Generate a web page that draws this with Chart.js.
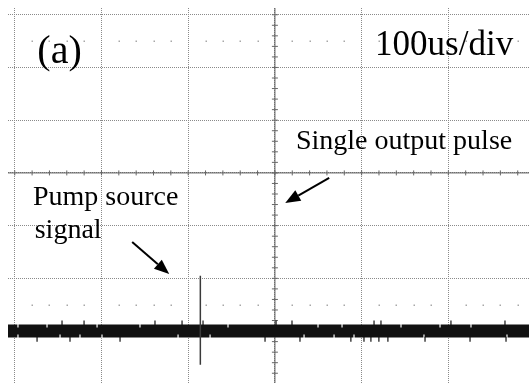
<!DOCTYPE html>
<html>
<head>
<meta charset="utf-8">
<script src="https://cdn.jsdelivr.net/npm/chart.js@4.4.1/dist/chart.umd.min.js"></script>
<style>
html,body{margin:0;padding:0;background:#fff;overflow:hidden;}
#c{display:block;}
</style>
</head>
<body>
<canvas id="c" width="529" height="383"></canvas>
<script>
// Axis window in divisions (centre of the screen = 0,0)
const xRange = [-3.078, 2.93];
const yRange = [-3.985, 3.128];
const xGridTicks = [-3, -2, -1, 0, 1, 2];
const yGridTicks = [-3, -2, -1, 0, 1, 2, 3];

// Baseline noise trace (level in divisions, start/end in divisions)
const baselineLevel = -3.0;
const baselineX = [-3.078, 2.93];

// Noise spikes leaving the band (x positions in divisions)
const upSpikes = [-2.455, -2.201, -1.383, -1.071, -0.829, 0.013, 0.197, 1.143, 1.223, 2.03, 2.653];
const downSpikes = [-2.743, -2.363, -1.786, -0.114, 0.289, 0.876, 1.027, 1.107, 1.199, 1.303, 1.731, 2.25, 2.665];
// Gaps in the band edges
const topNotches = [-2.963, -2.628, -2.051, -1.556, -0.541, 0.497, 0.774, 1.454, 1.904, 2.261];
const bottomNotches = [-2.963, -2.478, -2.248, -1.994, -1.117, -0.748, 0.336, 0.682, 0.912, 1.719, 2.676];

// Pump source signal: single vertical stroke
const pumpX = [-0.86, -0.86];
const pumpY = [-1.95, -3.64];

// Annotation texts and positions (divisions)
const labels = [
  {text: '(a)', x: -2.74, y: 2.087, size: 40},
  {text: '100us/div', x: 1.155, y: 2.24, size: 35},
  {text: 'Single output pulse', x: 0.243, y: 0.455, size: 28},
  {text: 'Pump source', x: -2.79, y: -0.607, size: 28},
  {text: 'signal', x: -2.77, y: -1.233, size: 28}
];
const arrows = [
  {from: [0.626, -0.095], to: [0.119, -0.57]},
  {from: [-1.646, -1.31], to: [-1.219, -1.917]}
];

const bandTop = baselineLevel + 0.125;
const bandBot = baselineLevel - 0.125;

const overlay = {
  id: 'overlay',
  beforeDatasetsDraw(chart) {
    const {ctx, chartArea: a, scales: {x, y}} = chart;
    ctx.save();
    // dotted rows at +/-2.5 div
    ctx.fillStyle = '#a8a8a8';
    [2.5, -2.5].forEach(r => {
      const py = y.getPixelForValue(r);
      for (let v = -3; v <= 2.95; v += 0.2) {
        const rv = Math.round(v * 5) / 5;
        if (Math.abs(rv - Math.round(rv)) < 1e-6) continue;
        ctx.fillRect(Math.round(x.getPixelForValue(rv)) - 0.5, Math.round(py) - 0.5, 1.5, 1.5);
      }
    });
    // centre crosshair
    const cx = x.getPixelForValue(0), cy = y.getPixelForValue(0);
    ctx.strokeStyle = '#5a5a5a';
    ctx.lineWidth = 1;
    ctx.beginPath();
    ctx.moveTo(a.left, cy); ctx.lineTo(a.right, cy);
    ctx.moveTo(cx, a.top); ctx.lineTo(cx, a.bottom);
    ctx.stroke();
    ctx.strokeStyle = '#666';
    ctx.beginPath();
    for (let v = -3; v <= 2.95; v += 0.2) {
      const rv = Math.round(v * 5) / 5;
      const px = x.getPixelForValue(rv);
      ctx.moveTo(px, cy - 2.5); ctx.lineTo(px, cy + 2.5);
    }
    for (let v = -3.8; v <= 3.1; v += 0.2) {
      const rv = Math.round(v * 5) / 5;
      const py = y.getPixelForValue(rv);
      ctx.moveTo(cx - 3, py); ctx.lineTo(cx + 3, py);
    }
    ctx.stroke();
    ctx.restore();
  },
  afterDatasetsDraw(chart) {
    const {ctx, scales: {x, y}} = chart;
    ctx.save();
    ctx.fillStyle = '#000';
    ctx.textBaseline = 'alphabetic';
    labels.forEach(l => {
      ctx.font = l.size + 'px "Liberation Serif", "Times New Roman", serif';
      ctx.fillText(l.text, x.getPixelForValue(l.x), y.getPixelForValue(l.y));
    });
    arrows.forEach(ar => {
      const x0 = x.getPixelForValue(ar.from[0]), y0 = y.getPixelForValue(ar.from[1]);
      const x1 = x.getPixelForValue(ar.to[0]), y1 = y.getPixelForValue(ar.to[1]);
      const ang = Math.atan2(y1 - y0, x1 - x0);
      const hl = 15, hw = 6;
      const bx = x1 - hl * Math.cos(ang), by = y1 - hl * Math.sin(ang);
      ctx.strokeStyle = '#000';
      ctx.lineWidth = 2;
      ctx.beginPath(); ctx.moveTo(x0, y0); ctx.lineTo(bx, by); ctx.stroke();
      ctx.beginPath();
      ctx.moveTo(x1, y1);
      ctx.lineTo(bx + hw * Math.sin(ang), by - hw * Math.cos(ang));
      ctx.lineTo(bx - hw * Math.sin(ang), by + hw * Math.cos(ang));
      ctx.closePath(); ctx.fill();
    });
    ctx.restore();
  }
};

const spikeDs = (xs, yv, color, r) => ({
  type: 'scatter',
  data: xs.map(v => ({x: v, y: yv})),
  pointStyle: 'line',
  rotation: 90,
  radius: r,
  borderColor: color,
  borderWidth: 1.2,
  backgroundColor: color,
  order: 0
});

new Chart(document.getElementById('c'), {
  type: 'line',
  data: {
    datasets: [
      {
        data: baselineX.map(v => ({x: v, y: baselineLevel})),
        borderColor: '#111',
        borderWidth: 13,
        borderCapStyle: 'butt',
        pointRadius: 0,
        order: 3
      },
      {
        data: pumpX.map((v, i) => ({x: v, y: pumpY[i]})),
        borderColor: '#3a3a3a',
        borderWidth: 1.5,
        pointRadius: 0,
        order: 1
      },
      spikeDs(upSpikes, bandTop + 0.03, '#111', 2.5),
      spikeDs(downSpikes, bandBot - 0.03, '#111', 2.5),
      spikeDs(topNotches, bandTop - 0.02, '#fff', 2),
      spikeDs(bottomNotches, bandBot + 0.02, '#fff', 2)
    ]
  },
  options: {
    responsive: false,
    animation: false,
    maintainAspectRatio: false,
    devicePixelRatio: 1,
    layout: {padding: {top: 8, left: 8, right: 0, bottom: 0}, autoPadding: false},
    plugins: {legend: {display: false}, tooltip: {enabled: false}},
    elements: {line: {tension: 0}},
    scales: {
      x: {
        type: 'linear', min: xRange[0], max: xRange[1],
        afterBuildTicks: s => { s.ticks = xGridTicks.map(v => ({value: v})); },
        ticks: {display: false},
        grid: {color: '#8a8a8a', lineWidth: 1, drawTicks: false},
        border: {display: false, dash: [1, 1]}
      },
      y: {
        type: 'linear', min: yRange[0], max: yRange[1],
        afterBuildTicks: s => { s.ticks = yGridTicks.map(v => ({value: v})); },
        ticks: {display: false},
        grid: {color: '#8a8a8a', lineWidth: 1, drawTicks: false},
        border: {display: false, dash: [1, 1]}
      }
    }
  },
  plugins: [overlay]
});
</script>
</body>
</html>
